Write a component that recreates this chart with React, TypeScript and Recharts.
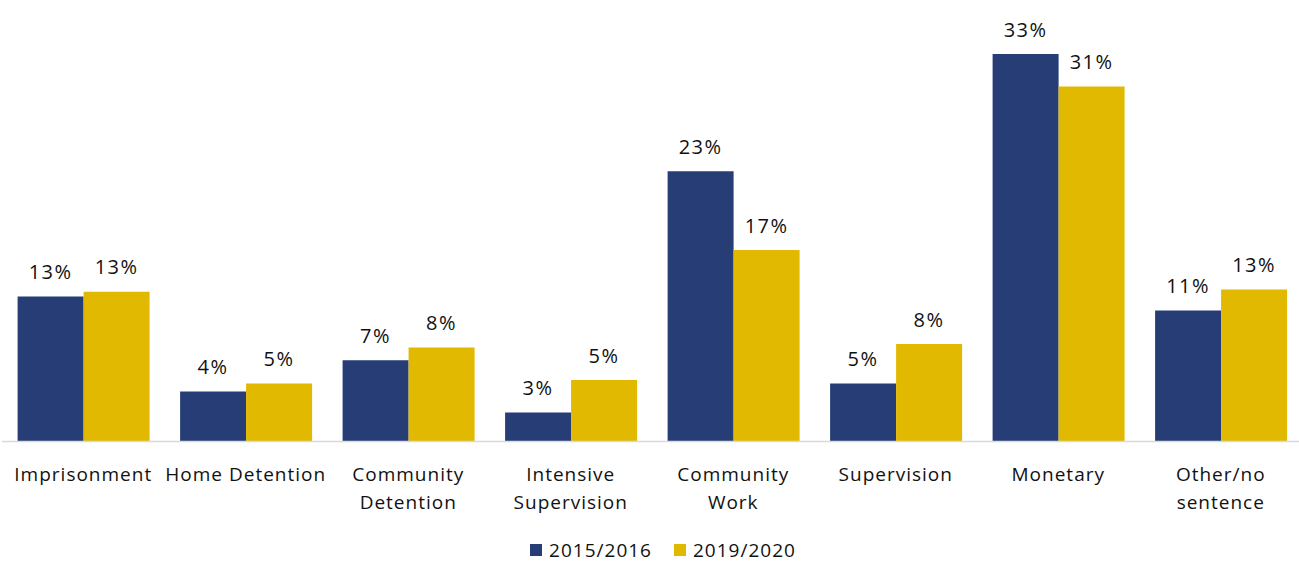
import { BarChart, Bar, XAxis, YAxis, Legend, LabelList } from 'recharts';

const categories = [
  'Imprisonment',
  'Home Detention',
  'Community\nDetention',
  'Intensive\nSupervision',
  'Community\nWork',
  'Supervision',
  'Monetary',
  'Other/no\nsentence',
];
const values2015 = [12.5, 4.3, 7.0, 2.5, 23.3, 5.0, 33.4, 11.3];
const values2019 = [12.9, 5.0, 8.1, 5.3, 16.5, 8.4, 30.6, 13.1];
const labels2015 = ['13%', '4%', '7%', '3%', '23%', '5%', '33%', '11%'];
const labels2019 = ['13%', '5%', '8%', '5%', '17%', '8%', '31%', '13%'];

const BLUE = '#263e75';
const GOLD = '#e1b900';
const FONT = '"Open Sans", Lato, sans-serif';
const TEXT = '#111111';

const data = categories.map((name, i) => ({
  name,
  a: values2015[i],
  b: values2019[i],
  la: labels2015[i],
  lb: labels2019[i],
}));

function CategoryTick({ x, y, payload }: any) {
  const lines = String(payload.value).split('\n');
  return (
    <text x={x} y={y} textAnchor="middle" fill={TEXT} fontSize={19} fontFamily={FONT} letterSpacing={1}>
      {lines.map((line, i) => (
        <tspan key={i} x={x} dy={i === 0 ? 39 : 28}>
          {line}
        </tspan>
      ))}
    </text>
  );
}

function LegendContent() {
  const items = [
    { label: '2015/2016', color: BLUE },
    { label: '2019/2020', color: GOLD },
  ];
  return (
    <div
      style={{
        display: 'flex',
        justifyContent: 'center',
        gap: 22,
        height: 26,
        lineHeight: '26px',
        alignItems: 'center',
        fontFamily: FONT,
        fontSize: 19,
        letterSpacing: 1,
        color: TEXT,
        paddingLeft: 22,
      }}
    >
      {items.map((it) => (
        <span key={it.label} style={{ display: 'flex', alignItems: 'center', gap: 7 }}>
          <span style={{ width: 12, height: 12, background: it.color, display: 'inline-block' }} />
          {it.label}
        </span>
      ))}
    </div>
  );
}

export default function App() {
  return (
    <div style={{ position: 'absolute', left: 0, top: 0, width: 1299, height: 563, overflow: 'hidden', background: '#fff' }}>
      <BarChart
        width={1302}
        height={563}
        data={data}
        margin={{ top: 35.5, right: 0, bottom: 0, left: 2 }}
        barCategoryGap="9.6%"
        barGap={0}
      >
        <XAxis
          dataKey="name"
          interval={0}
          height={95.5}
          tickLine={false}
          tickSize={0}
          tickMargin={0}
          axisLine={{ stroke: '#d9d9d9', strokeWidth: 1.5 }}
          tick={<CategoryTick />}
        />
        <YAxis hide domain={[0, 35]} />
        <Legend verticalAlign="bottom" content={<LegendContent />} />
        <Bar dataKey="a" fill={BLUE} isAnimationActive={false}>
          <LabelList dataKey="la" position="top" offset={17.5} fill={TEXT} fontSize={20} fontFamily={FONT} letterSpacing={1.5} />
        </Bar>
        <Bar dataKey="b" fill={GOLD} isAnimationActive={false}>
          <LabelList dataKey="lb" position="top" offset={17.5} fill={TEXT} fontSize={20} fontFamily={FONT} letterSpacing={1.5} />
        </Bar>
      </BarChart>
    </div>
  );
}
